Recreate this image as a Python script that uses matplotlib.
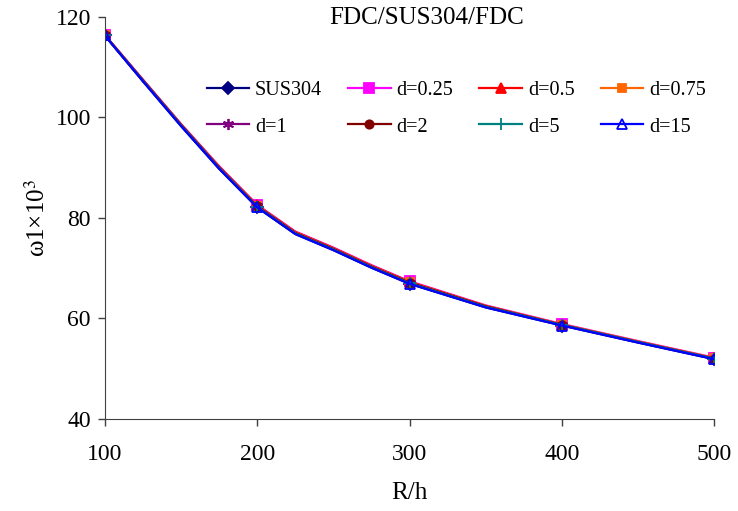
import matplotlib
matplotlib.use("Agg")
import matplotlib.pyplot as plt

# R/h values (markers only at the multiples of 100)
r_h = [100, 125, 150, 175, 200, 225, 250, 275, 300, 350, 400, 450, 500]

# omega_1 x 10^3
sus304 = [116.3, 107.2, 98.3, 89.8, 82.1, 76.8, 73.6, 70.1, 66.9, 62.2, 58.6, 55.2, 51.9]
d025 = [116.4, 107.5, 98.7, 90.3, 82.6, 77.3, 74.1, 70.6, 67.4, 62.6, 58.9, 55.5, 52.2]
d05 = [116.4, 107.5, 98.6, 90.2, 82.5, 77.2, 74.0, 70.5, 67.3, 62.5, 58.8, 55.4, 52.1]
d075 = [116.4, 107.4, 98.6, 90.1, 82.4, 77.1, 73.9, 70.4, 67.2, 62.5, 58.8, 55.4, 52.1]
d1 = [116.3, 107.4, 98.5, 90.0, 82.3, 77.0, 73.8, 70.3, 67.1, 62.4, 58.7, 55.3, 52.0]
d2 = [116.3, 107.3, 98.5, 90.0, 82.3, 77.0, 73.8, 70.3, 67.1, 62.4, 58.7, 55.3, 52.0]
d5 = [116.3, 107.3, 98.4, 89.9, 82.2, 76.9, 73.7, 70.2, 67.0, 62.3, 58.7, 55.3, 52.0]
d15 = [116.3, 107.2, 98.3, 89.8, 82.1, 76.8, 73.6, 70.1, 66.9, 62.2, 58.6, 55.2, 51.9]

labels = ["SUS304", "d=0.25", "d=0.5", "d=0.75", "d=1", "d=2", "d=5", "d=15"]
series = [sus304, d025, d05, d075, d1, d2, d5, d15]
colors = ["#000080", "#FF00FF", "#FF0000", "#FF6600",
          "#800080", "#800000", "#008080", "#0000FF"]
markers = ["D", "s", "^", "s", (6, 2, 0), "o", "+", "^"]
msizes = [6, 7, 7, 6, 8, 6, 8, 7]

plt.rcParams["font.family"] = ["Liberation Serif", "DejaVu Serif"]
plt.rcParams["mathtext.fontset"] = "stix"

fig = plt.figure(figsize=(7.38, 5.11), dpi=100)
ax = fig.add_axes([0.142, 0.180, 0.826, 0.787])

mark_idx = [0, 4, 8, 10, 12]
handles = []
for y, lab, c, m, ms in zip(series, labels, colors, markers, msizes):
    face = "none" if lab == "d=15" else c
    h, = ax.plot(r_h, y, color=c, lw=1.6, marker=m, ms=ms, markevery=mark_idx,
                 markerfacecolor=face, markeredgecolor=c, markeredgewidth=1.3,
                 label=lab)
    handles.append(h)

ax.set_xlim(100, 500)
ax.set_ylim(40, 120)
ax.set_xticks([100, 200, 300, 400, 500])
ax.set_yticks([40, 60, 80, 100, 120])
ax.tick_params(labelsize=17, direction="out", length=5, width=1, color="#404040")
ax.tick_params(axis="x", pad=13)
ax.tick_params(axis="y", pad=5)
for side in ["top", "right"]:
    ax.spines[side].set_visible(False)
for side in ["left", "bottom"]:
    ax.spines[side].set_color("#404040")

ax.set_xlabel("R/h", fontsize=18, labelpad=12)
ax.set_ylabel(r"ω1×10$^3$", fontsize=18, labelpad=4)

fig.text(0.578, 0.965, "FDC/SUS304/FDC", fontsize=18, ha="center", va="center")

# legend filled row by row
order = [0, 4, 1, 5, 2, 6, 3, 7]
ax.legend([handles[i] for i in order], [labels[i] for i in order], ncol=4,
          frameon=False, fontsize=14.5, loc="upper left",
          bbox_to_anchor=(0.167, 0.84), handlelength=2.1, handletextpad=0.3,
          columnspacing=1.3, labelspacing=0.85, borderaxespad=0, borderpad=0)

fig.savefig("out.png", dpi=100)
